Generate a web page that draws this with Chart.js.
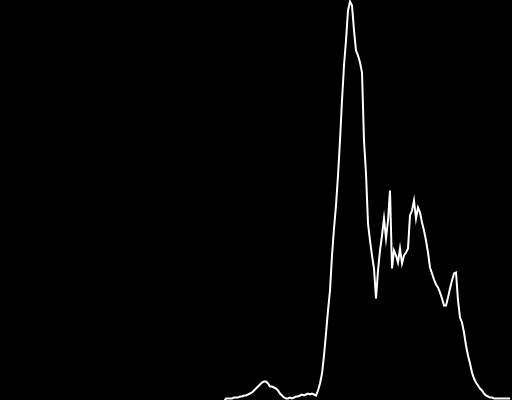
<!DOCTYPE html>
<html>
<head>
<meta charset="utf-8">
<script src="https://cdn.jsdelivr.net/npm/chart.js@4/dist/chart.umd.min.js"></script>
<style>
  html, body { margin: 0; padding: 0; background: #000; }
  #wrap { width: 512px; height: 400px; }
</style>
</head>
<body>
<div id="wrap"><canvas id="c" width="512" height="400"></canvas></div>
<script>
// Intensity levels 0..255 (histogram bins)
const levels = Array.from({ length: 256 }, (_, i) => i);

// Histogram counts (relative units)
const counts = [
  0,0,0,0,0,0,0,0,0,0,0,0,0,0,0,0,
  0,0,0,0,0,0,0,0,0,0,0,0,0,0,0,0,
  0,0,0,0,0,0,0,0,0,0,0,0,0,0,0,0,
  0,0,0,0,0,0,0,0,0,0,0,0,0,0,0,0,
  0,0,0,0,0,0,0,0,0,0,0,0,0,0,0,0,
  0,0,0,0,0,0,0,0,0,0,0,0,0,0,0,0,
  0,0,0,0,0,0,0,0,0,0,0,0,0,0,0,0,
  0,3,3,3,3,4,4,4,5,5,6,6,7,8,9,11,
  13,15,17,19,20,20,18,15,15,14,13,11,8,6,4,3,
  3,4,3,4,5,5,6,7,6,7,8,7,8,7,6,11,
  18,28,46,68,91,111,146,173,196,226,261,301,336,361,391,400,
  396,371,351,346,339,329,261,228,178,161,146,133,103,131,151,166,
  183,163,181,211,133,151,146,139,153,138,146,149,153,186,191,201,
  183,194,189,179,171,161,149,134,128,122,117,114,109,103,96,96,
  104,113,121,128,129,101,84,79,69,56,46,38,29,23,19,16,
  13,11,8,6,5,4,4,3,3,3,3,3,3,3,3,3
];

new Chart(document.getElementById('c'), {
  type: 'line',
  data: {
    labels: levels,
    datasets: [{
      data: counts,
      borderColor: '#ffffff',
      borderWidth: 2,
      pointRadius: 0,
      tension: 0,
      fill: false
    }]
  },
  options: {
    responsive: false,
    animation: false,
    layout: { padding: 0 },
    plugins: { legend: { display: false }, tooltip: { enabled: false } },
    scales: {
      x: { type: 'linear', display: false, min: 0, max: 256 },
      y: { display: false, min: 1.5, max: 401.5 }
    }
  }
});
</script>
</body>
</html>
